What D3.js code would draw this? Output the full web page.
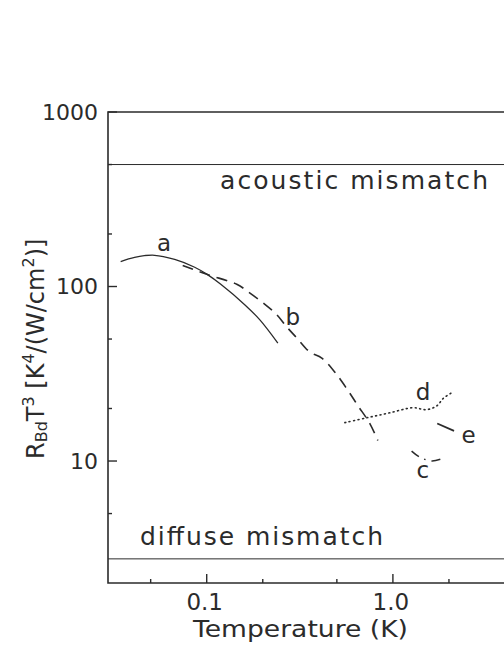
<!DOCTYPE html>
<html><head><meta charset="utf-8">
<script src="https://cdn.jsdelivr.net/npm/d3@7"></script>
<style>
html,body{margin:0;padding:0;background:#fff;}
text{font-family:"DejaVu Sans",sans-serif;fill:#2b2b2b;}
</style></head>
<body>
<script>
// ---- data ----
const curveA_T = [0.0345,0.041,0.0525,0.0673,0.0862,0.101,0.119,0.160,0.193,0.241];
const curveA_R = [139,147,151,143,129,117,103,78.7,64.4,47.4];
const curveB_T = [0.0743,0.101,0.145,0.170,0.200,0.238,0.269,0.305,0.358,0.415,0.488,0.573,0.648,0.752,0.830];
const curveB_R = [132,117,103,92,80.8,68.9,58.7,50.7,42.1,38.9,32.3,25.4,20.8,16.4,13.1];
const curveC_T = [1.26,1.40,1.62,1.83];
const curveC_R = [11.4,10.5,10.0,10.3];
const curveD_T = [0.552,0.725,0.964,1.28,1.52,1.73,1.86,2.08];
const curveD_R = [16.6,17.7,18.9,20.2,19.7,20.8,22.8,24.7];
const curveE_T = [1.73,2.13];
const curveE_R = [16.4,14.9];
const acousticLevel = 500;
const diffuseLevel = 2.75;
const xMajorTicks = [0.1, 1];
const xMajorLabels = ["0.1", "1.0"];
const xMinorTicks = [0.05, 0.2, 0.5, 2];
const yMajorTicks = [10, 100, 1000];
const yMajorLabels = ["10", "100", "1000"];
const yMinorTicks = [5, 20, 50, 200, 500];
const curveLabels = [
  {t:"a", T:0.059, R:178},
  {t:"b", T:0.290, R:67},
  {t:"d", T:1.45, R:24.8},
  {t:"e", T:2.55, R:14.2},
  {t:"c", T:1.45, R:8.9}
];

const W = 504, H = 646;
const svg = d3.select("body").append("svg").attr("width", W).attr("height", H);

const x = d3.scaleLog().domain([0.0295, 4]).range([108, 505]);
const y = d3.scaleLog().domain([2, 1000]).range([583, 112]);
const ink = "#2b2b2b";

// frame (right side beyond view)
svg.append("path")
  .attr("d", `M${x.range()[1]+20},${y(1000)}H${x(0.0295)}V${y(2)}H${x.range()[1]+20}`)
  .attr("fill","none").attr("stroke",ink).attr("stroke-width",1.6);

// ticks
const g = svg.append("g").attr("stroke", ink).attr("stroke-width", 1.4);
xMajorTicks.forEach(v => g.append("line").attr("x1",x(v)).attr("x2",x(v)).attr("y1",y(2)).attr("y2",y(2)-9));
xMinorTicks.forEach(v => g.append("line").attr("x1",x(v)).attr("x2",x(v)).attr("y1",y(2)).attr("y2",y(2)-4));
yMajorTicks.forEach(v => g.append("line").attr("x1",x(0.0295)).attr("x2",x(0.0295)+9).attr("y1",y(v)).attr("y2",y(v)));
yMinorTicks.forEach(v => g.append("line").attr("x1",x(0.0295)).attr("x2",x(0.0295)+4).attr("y1",y(v)).attr("y2",y(v)));

// tick labels
yMajorTicks.forEach((v,i) => svg.append("text").attr("x", 98).attr("y", y(v)).attr("dy","0.36em")
  .attr("text-anchor","end").attr("font-size",22).text(yMajorLabels[i]));
xMajorTicks.forEach((v,i) => svg.append("text").attr("x", x(v)-2).attr("y", 610)
  .attr("text-anchor","middle").attr("font-size",23).text(xMajorLabels[i]));

// axis titles
svg.append("text").attr("x", 193).attr("y", 637).attr("font-size",23)
  .attr("textLength", 215).attr("lengthAdjust","spacingAndGlyphs").text("Temperature (K)");

const yt = svg.append("text").attr("transform","translate(44,459) rotate(-90)").attr("font-size",24);
yt.append("tspan").text("R");
yt.append("tspan").attr("font-size",16).attr("dy",3).text("Bd");
yt.append("tspan").attr("dy",-3).text("T");
yt.append("tspan").attr("font-size",16).attr("dy",-10).text("3");
yt.append("tspan").attr("dy",10).text(" [K");
yt.append("tspan").attr("font-size",16).attr("dy",-10).text("4");
yt.append("tspan").attr("dy",10).text("/(W/cm");
yt.append("tspan").attr("font-size",16).attr("dy",-10).text("2");
yt.append("tspan").attr("dy",10).text(")]");

// mismatch lines
[acousticLevel, diffuseLevel].forEach(v => svg.append("line")
  .attr("x1", x(0.0295)).attr("x2", W).attr("y1", y(v)).attr("y2", y(v))
  .attr("stroke", ink).attr("stroke-width", 1));
svg.append("text").attr("x", 220).attr("y", 189).attr("font-size",25)
  .attr("textLength", 268).attr("lengthAdjust","spacing").text("acoustic mismatch");
svg.append("text").attr("x", 140).attr("y", 545).attr("font-size",25)
  .attr("textLength", 243).attr("lengthAdjust","spacing").text("diffuse mismatch");

// curves
const line = d3.line().x(d => x(d[0])).y(d => y(d[1])).curve(d3.curveCatmullRom);
function draw(T, R, dash, w) {
  svg.append("path").datum(T.map((t,i)=>[t,R[i]]))
    .attr("d", line).attr("fill","none").attr("stroke", ink)
    .attr("stroke-width", w).attr("stroke-dasharray", dash)
    .attr("stroke-linecap", dash === "1,3.5" ? "round" : "butt");
}
draw(curveA_T, curveA_R, null, 1.3);
draw(curveB_T, curveB_R, "11,7", 1.6);
draw(curveC_T, curveC_R, "9,6,1.5,6", 1.5);
draw(curveD_T, curveD_R, "1,3.5", 1.6);
draw(curveE_T, curveE_R, null, 1.8);

curveLabels.forEach(l => svg.append("text").attr("x", x(l.T)).attr("y", y(l.R))
  .attr("text-anchor","middle").attr("dy","0.36em").attr("font-size",23).text(l.t));
</script>
</body></html>
